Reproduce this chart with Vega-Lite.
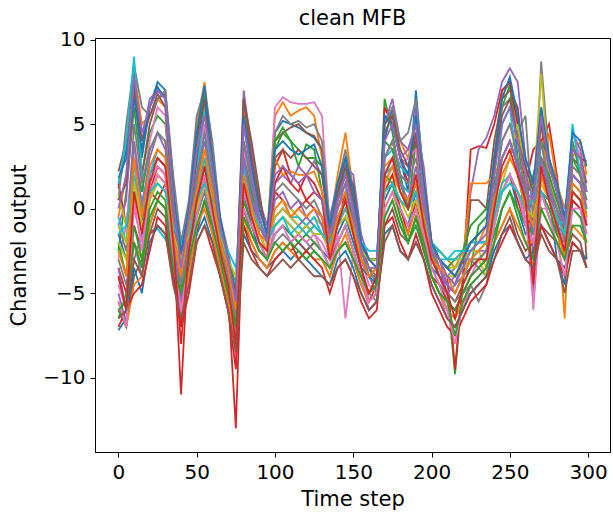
{
  "$schema": "https://vega.github.io/schema/vega-lite/v6.json",
  "width": 515,
  "height": 414,
  "autosize": {"type": "none"},
  "padding": {"left": 95, "top": 38, "right": 3, "bottom": 62},
  "background": "white",
  "config": {
    "font": "DejaVu Sans",
    "view": {"stroke": "black", "strokeWidth": 1},
    "axis": {"grid": false, "domainColor": "black", "tickColor": "black", "labelColor": "black", "titleColor": "black", "labelFont": "DejaVu Sans", "titleFont": "DejaVu Sans", "labelFontSize": 20, "titleFontSize": 21, "titleFontWeight": "normal", "tickSize": 5, "labelPadding": 5}
  },
  "title": {"text": "clean MFB", "fontSize": 21, "fontWeight": "normal", "font": "DejaVu Sans", "color": "black", "offset": 1},
  "data": {"values": [
    {"step":0,"a":1.2,"b":-0.5,"c":-2.5,"d":1.5,"e":-1,"f":2.2,"g":-3,"h":0.5,"i":0.8,"j":1.5,"k":-1.5,"l":-4,"m":-2,"n":-3.5,"o":-5,"p":-6,"q":-4.5,"r":-3,"s":-2,"t":-0.5,"u":-7.2,"v":-5.5,"w":-6.5,"x":-7,"y":-3.5,"z":0.5,"A":-5.5,"B":-1,"C":-1,"D":-1.5,"E":1.8,"F":-2.5,"G":-6,"H":-4,"I":0,"J":-6.5},
    {"step":5,"a":3.5,"b":2,"c":1,"d":-1,"e":0.5,"f":4,"g":-1,"h":5,"i":-1,"j":4,"k":-3,"l":-6,"m":-4,"n":-5,"o":-6.8,"p":-7,"q":-6,"r":-4.5,"s":-3,"t":-2,"u":-6.5,"v":-7,"w":-5,"x":-6,"y":-6,"z":1.5,"A":-7,"B":-2.5,"C":-2,"D":-1,"E":3,"F":-4,"G":-5.5,"H":-6,"I":2,"J":-6},
    {"step":10,"a":7.5,"b":8.2,"c":6,"d":3,"e":7,"f":8,"g":4,"h":8.5,"i":2,"j":9,"k":1,"l":-2,"m":3,"n":-1,"o":-3,"p":-4,"q":0,"r":-2,"s":1.5,"t":2.5,"u":-3.5,"v":-4.5,"w":-1,"x":-5,"y":4,"z":7,"A":0.5,"B":5,"C":1,"D":2,"E":6.5,"F":3,"G":-2,"H":1,"I":7.8,"J":-3},
    {"step":15,"a":3,"b":5,"c":2,"d":0,"e":4,"f":2,"g":1,"h":6,"i":-1,"j":2,"k":-1,"l":-3,"m":1,"n":-2.5,"o":-1.5,"p":-3,"q":-2,"r":-4,"s":-1,"t":0.5,"u":-5,"v":-4,"w":-3,"x":-4.5,"y":0,"z":4,"A":-2.5,"B":1.5,"C":-1,"D":0,"E":3.5,"F":-0.5,"G":-3.5,"H":-1.5,"I":4.5,"J":-4},
    {"step":20,"a":6,"b":5.5,"c":4.5,"d":1,"e":6.5,"f":5,"g":4,"h":5.5,"i":2.5,"j":-1.5,"k":2,"l":0.5,"m":3.5,"n":1,"o":2,"p":-1.5,"q":1.5,"r":-1,"s":0.5,"t":2,"u":-2,"v":-1,"w":0,"x":-2.5,"y":3,"z":5.5,"A":1,"B":3.5,"C":0.5,"D":1,"E":6,"F":2.5,"G":-0.5,"H":1.5,"I":6,"J":-1.5},
    {"step":25,"a":7.5,"b":6.5,"c":5.5,"d":0.5,"e":7,"f":6.5,"g":6,"h":6.5,"i":3.5,"j":-1.2,"k":3,"l":2,"m":4.5,"n":2.5,"o":3,"p":0,"q":2.5,"r":0.5,"s":2,"t":3.5,"u":-1,"v":0.5,"w":1,"x":-0.5,"y":4.5,"z":6.8,"A":2,"B":4.5,"C":1.5,"D":1.5,"E":7.2,"F":3.5,"G":0.5,"H":3,"I":7,"J":-1},
    {"step":30,"a":7,"b":6,"c":5,"d":1.5,"e":6.5,"f":6.8,"g":5.5,"h":7,"i":3,"j":-1.8,"k":2.5,"l":1.5,"m":4,"n":2,"o":2.5,"p":-0.5,"q":2,"r":0,"s":1.5,"t":3,"u":-1.5,"v":0,"w":0.5,"x":-1,"y":3.5,"z":6,"A":1.5,"B":4,"C":1,"D":1,"E":6.5,"F":3,"G":0,"H":2.5,"I":6.5,"J":-1.5},
    {"step":35,"a":1.5,"b":0.5,"c":0,"d":-1.5,"e":1,"f":0,"g":-1,"h":2,"i":-1.5,"j":-2.5,"k":-2,"l":-3,"m":-1,"n":-2.5,"o":-2,"p":-4,"q":-3,"r":-3.5,"s":-2.5,"t":-2,"u":-4,"v":-3,"w":-3,"x":-4,"y":-2,"z":0,"A":-3,"B":-0.5,"C":-1.5,"D":-1,"E":1,"F":-1.5,"G":-3.5,"H":-2,"I":0.5,"J":-4.5},
    {"step":40,"a":-4.5,"b":-3,"c":-5,"d":-11,"e":-3.5,"f":-4,"g":-6,"h":-2,"i":-3,"j":-3,"k":-4,"l":-5,"m":-2.5,"n":-6.8,"o":-4,"p":-5.5,"q":-6.5,"r":-4,"s":-3.5,"t":-2.5,"u":-5,"v":-6,"w":-4.5,"x":-7,"y":-5.5,"z":-3,"A":-6,"B":-4.5,"C":-3,"D":-2,"E":-2.5,"F":-4,"G":-5,"H":-8,"I":-3.5,"J":-6.5},
    {"step":45,"a":-1,"b":0,"c":-1.5,"d":-2,"e":-0.5,"f":-2,"g":-2.5,"h":0.5,"i":-2,"j":-2,"k":-3,"l":-2.5,"m":-1,"n":-3,"o":-1.5,"p":-4,"q":-3.5,"r":-3,"s":-2,"t":-1.5,"u":-3.5,"v":-4,"w":-2.5,"x":-5,"y":-1.5,"z":-0.5,"A":-3,"B":-2,"C":-1.5,"D":-1.5,"E":0,"F":-1,"G":-3,"H":-2.5,"I":-0.5,"J":-4.5},
    {"step":50,"a":3,"b":5,"c":4,"d":1,"e":3.5,"f":2.5,"g":2,"h":5.5,"i":0.5,"j":2,"k":0,"l":1.5,"m":2,"n":0,"o":1,"p":-1.5,"q":0,"r":-0.5,"s":1,"t":1,"u":-1.5,"v":-1,"w":0,"x":-2,"y":2,"z":4,"A":-0.5,"B":1.5,"C":0,"D":0.5,"E":4.5,"F":1,"G":-1,"H":0.5,"I":3.5,"J":-2},
    {"step":55,"a":6.5,"b":7.5,"c":7,"d":5,"e":5.5,"f":6,"g":5,"h":7,"i":3,"j":6,"k":2.5,"l":3.5,"m":4,"n":2,"o":3,"p":0.5,"q":2,"r":1,"s":2.5,"t":3,"u":-0.5,"v":0,"w":1.5,"x":-1,"y":4,"z":6.5,"A":1.5,"B":4.5,"C":1.5,"D":1.5,"E":7.3,"F":3.5,"G":0.5,"H":2.5,"I":5.5,"J":-1},
    {"step":60,"a":2,"b":3.5,"c":2.5,"d":1.5,"e":3,"f":1.5,"g":2,"h":4,"i":0.5,"j":1.5,"k":0,"l":1,"m":1.5,"n":-0.5,"o":0.5,"p":-1.5,"q":0,"r":-1,"s":0.5,"t":1,"u":-2,"v":-1.5,"w":-0.5,"x":-2.5,"y":1,"z":2.5,"A":-0.5,"B":1.5,"C":0,"D":0.5,"E":3,"F":1,"G":-1,"H":0,"I":2.5,"J":-2},
    {"step":65,"a":-2,"b":-1,"c":-1.5,"d":-2.5,"e":-1,"f":-2,"g":-2,"h":-0.5,"i":-2.5,"j":-2,"k":-3,"l":-2,"m":-1.5,"n":-3,"o":-2.5,"p":-3.5,"q":-3,"r":-3.5,"s":-2.5,"t":-2,"u":-4,"v":-3.5,"w":-3,"x":-4,"y":-2,"z":-1,"A":-3,"B":-2,"C":-1.5,"D":-1.5,"E":-0.5,"F":-2,"G":-3,"H":-2.5,"I":-1,"J":-4},
    {"step":70,"a":-4,"b":-3.5,"c":-4.5,"d":-5,"e":-3,"f":-4,"g":-3.5,"h":-2.5,"i":-4,"j":-3,"k":-4.5,"l":-4,"m":-3,"n":-5,"o":-4,"p":-5.5,"q":-5,"r":-5,"s":-4,"t":-3.5,"u":-6,"v":-5.5,"w":-5,"x":-6,"y":-3.5,"z":-3,"A":-4.5,"B":-4,"C":-3,"D":-2.5,"E":-3,"F":-3.5,"G":-5,"H":-4.5,"I":-3,"J":-6},
    {"step":75,"a":-6.5,"b":-7,"c":-6,"d":-13,"e":-5.5,"f":-7.5,"g":-9,"h":-5,"i":-5.5,"j":-4.5,"k":-6,"l":-8,"m":-4.5,"n":-7,"o":-6.5,"p":-7,"q":-8.5,"r":-6,"s":-5,"t":-4.5,"u":-7.5,"v":-8,"w":-6.5,"x":-9.5,"y":-6,"z":-5,"A":-7.5,"B":-6.5,"C":-4,"D":-3.5,"E":-5.5,"F":-6,"G":-7,"H":-8,"I":-5.5,"J":-8.5},
    {"step":80,"a":5,"b":6,"c":4,"d":1,"e":7,"f":6.5,"g":3.5,"h":5.5,"i":2,"j":3,"k":1,"l":2.5,"m":3,"n":0,"o":4,"p":-1,"q":1,"r":0,"s":2,"t":2.5,"u":-1.5,"v":-0.5,"w":0.5,"x":-1,"y":3,"z":6.5,"A":0,"B":4,"C":1.5,"D":2,"E":5.5,"F":2,"G":-0.5,"H":1.5,"I":5,"J":-2},
    {"step":85,"a":2,"b":3,"c":1.5,"d":-0.5,"e":3.5,"f":4,"g":1,"h":2.5,"i":0,"j":1,"k":-1,"l":0.5,"m":1,"n":-1.5,"o":1.5,"p":-2,"q":-0.5,"r":-1.5,"s":0,"t":0.5,"u":-2.5,"v":-2,"w":-1,"x":-2.5,"y":0.5,"z":3,"A":-1,"B":1.5,"C":0,"D":0,"E":2.5,"F":0,"G":-1.5,"H":-0.5,"I":2,"J":-3},
    {"step":90,"a":-1,"b":0,"c":-1.5,"d":-2,"e":0.5,"f":1,"g":-1.5,"h":0,"i":-1.5,"j":-1,"k":-2.5,"l":-1.5,"m":-1,"n":-2.5,"o":-1,"p":-3,"q":-2,"r":-2.5,"s":-1.5,"t":-1,"u":-3,"v":-3,"w":-2,"x":-3.5,"y":-1,"z":0.5,"A":-2,"B":-0.5,"C":-1,"D":-1,"E":0,"F":-1.5,"G":-2.5,"H":-2,"I":-0.5,"J":-3.5},
    {"step":95,"a":-2,"b":-1.5,"c":-2.5,"d":-3,"e":-1,"f":-2,"g":-2.5,"h":-1.5,"i":-2.5,"j":-2,"k":-3,"l":-2.5,"m":-2,"n":-3,"o":-2,"p":-3.5,"q":-3,"r":-3,"s":-2.5,"t":-2,"u":-3.5,"v":-3.5,"w":-3,"x":-4,"y":-2,"z":-1.5,"A":-3,"B":-2,"C":-1.5,"D":-1.5,"E":-1.5,"F":-2,"G":-3,"H":-2.5,"I":-2,"J":-4},
    {"step":100,"a":4.5,"b":5.5,"c":3.5,"d":2.5,"e":1.5,"f":4,"g":6,"h":4.5,"i":0,"j":-0.5,"k":-1.5,"l":3,"m":4,"n":1,"o":-0.5,"p":-2.5,"q":-1,"r":-2,"s":-0.5,"t":-1,"u":-3,"v":-2.5,"w":-1.5,"x":-3,"y":0.5,"z":3,"A":-1.5,"B":1,"C":-1,"D":-1,"E":3.5,"F":0,"G":-2,"H":1.5,"I":2,"J":-3.5},
    {"step":105,"a":5.2,"b":6.3,"c":4.5,"d":3.5,"e":2,"f":4.5,"g":6.6,"h":5.5,"i":0.5,"j":0,"k":-1,"l":2,"m":4.8,"n":0.5,"o":0,"p":-2,"q":-0.5,"r":-1.5,"s":0,"t":-0.5,"u":-2.5,"v":-2,"w":-1,"x":-2.5,"y":1,"z":3.5,"A":-1,"B":1.5,"C":-0.5,"D":-0.5,"E":4,"F":0.5,"G":-2.5,"H":2.5,"I":2.5,"J":-3},
    {"step":110,"a":5,"b":5.5,"c":4,"d":2,"e":1.5,"f":4.8,"g":6.3,"h":5,"i":0,"j":-0.5,"k":-1.5,"l":2.2,"m":4,"n":-0.5,"o":-0.5,"p":-2.5,"q":-1,"r":-2,"s":-0.5,"t":-1,"u":-3,"v":-2.5,"w":-1.5,"x":-2,"y":0,"z":3,"A":-2,"B":1,"C":-1,"D":-1.5,"E":3.5,"F":-0.5,"G":-2,"H":1.5,"I":2,"J":-3.5},
    {"step":115,"a":4.8,"b":5.8,"c":2.5,"d":1.5,"e":2.5,"f":5,"g":6.2,"h":5.2,"i":-0.5,"j":-0.5,"k":-2,"l":2,"m":3.5,"n":0,"o":-1,"p":-2,"q":-1.5,"r":-1.5,"s":-1,"t":-1.5,"u":-2.5,"v":-3,"w":-2,"x":-3,"y":0.5,"z":3.5,"A":-1.5,"B":0.5,"C":-1.5,"D":-1,"E":3.2,"F":0,"G":-2.5,"H":1,"I":1.5,"J":-3},
    {"step":120,"a":4.5,"b":6,"c":3.8,"d":0.5,"e":2,"f":4.5,"g":6.2,"h":4.8,"i":-1,"j":-1,"k":-2.5,"l":2,"m":3,"n":0.5,"o":-0.5,"p":-2.5,"q":-1,"r":-2,"s":-1.5,"t":-1,"u":-3,"v":-2.5,"w":-1.5,"x":-2.5,"y":-0.5,"z":3,"A":-2,"B":0,"C":-1,"D":-1.5,"E":3.5,"F":-0.5,"G":-3,"H":2,"I":2,"J":-3.5},
    {"step":125,"a":4.2,"b":5.5,"c":3.5,"d":1,"e":2.8,"f":4.3,"g":6.3,"h":5,"i":-0.5,"j":-0.5,"k":-2,"l":2.2,"m":3,"n":0,"o":-1,"p":-2,"q":-1.5,"r":-2.5,"s":-1,"t":-1.5,"u":-3.5,"v":-3,"w":-2,"x":-3,"y":0,"z":2.5,"A":-1.5,"B":0.5,"C":-1.5,"D":-1,"E":3.8,"F":0,"G":-2.5,"H":1.5,"I":1,"J":-4},
    {"step":130,"a":3.5,"b":3,"c":1,"d":0.5,"e":2,"f":3.5,"g":5.5,"h":4,"i":-1,"j":-1.5,"k":-2.5,"l":1,"m":2.5,"n":-0.5,"o":-1.5,"p":-2.5,"q":-2,"r":-3,"s":-1.5,"t":-1.5,"u":-4,"v":-3,"w":-2.5,"x":-3.5,"y":-1,"z":2,"A":-2.5,"B":-0.5,"C":-1.5,"D":-1.5,"E":2.5,"F":-0.5,"G":-3,"H":0.5,"I":0.5,"J":-4},
    {"step":135,"a":-1.5,"b":-1,"c":-2,"d":-2,"e":-0.5,"f":-1.5,"g":-1,"h":-1,"i":-2.5,"j":-2,"k":-3,"l":-2,"m":-1.5,"n":-3,"o":-2.5,"p":-3.5,"q":-3,"r":-4,"s":-2.5,"t":-2,"u":-4.5,"v":-4,"w":-3.5,"x":-5,"y":-2.5,"z":-1.5,"A":-3.5,"B":-2,"C":-2,"D":-2,"E":-1,"F":-2.5,"G":-3.5,"H":-3,"I":-1.5,"J":-4.5},
    {"step":140,"a":1,"b":2,"c":0.5,"d":-1,"e":1.5,"f":1,"g":0,"h":1.5,"i":-1,"j":-0.5,"k":-1.5,"l":0,"m":0.5,"n":-2,"o":-0.5,"p":-2.5,"q":-1.5,"r":-2.5,"s":-1,"t":-0.5,"u":-3,"v":-2.5,"w":-2,"x":-3.5,"y":0,"z":1,"A":-2,"B":0.5,"C":-1,"D":-1,"E":1.5,"F":-0.5,"G":-2.5,"H":-1,"I":0.5,"J":-3.5},
    {"step":145,"a":3,"b":4.5,"c":2.5,"d":1,"e":2.5,"f":2,"g":1,"h":3.5,"i":0,"j":0.5,"k":-0.5,"l":1,"m":1.5,"n":-1,"o":0.5,"p":-2,"q":-6.5,"r":-2,"s":0,"t":0.5,"u":-2.5,"v":-1.5,"w":-1,"x":-3,"y":1.5,"z":2.5,"A":-1,"B":2,"C":-0.5,"D":0,"E":3,"F":0.5,"G":-2,"H":0.5,"I":2,"J":-3},
    {"step":150,"a":0.5,"b":1,"c":0,"d":-1.5,"e":2,"f":1.5,"g":-0.5,"h":1,"i":-1.5,"j":-1,"k":-2,"l":-1,"m":-1,"n":-2.5,"o":0,"p":-3,"q":-2.5,"r":-3,"s":-1.5,"t":-1,"u":-3.5,"v":-3,"w":-2.5,"x":-4,"y":-0.5,"z":0.5,"A":-2.5,"B":0,"C":-1.5,"D":-1,"E":1,"F":-1,"G":-3,"H":-1.5,"I":0,"J":-4},
    {"step":155,"a":-2.5,"b":-2,"c":-3,"d":-3.5,"e":-1.5,"f":-2,"g":-3,"h":-2,"i":-2.5,"j":-2.5,"k":-3.5,"l":-3,"m":-2.5,"n":-4,"o":-3,"p":-4.5,"q":-4,"r":-4,"s":-3,"t":-2.5,"u":-5,"v":-4.5,"w":-4,"x":-5.5,"y":-3,"z":-2,"A":-4,"B":-2.5,"C":-2.5,"D":-2,"E":-2,"F":-3,"G":-4,"H":-3.5,"I":-2.5,"J":-5},
    {"step":160,"a":-3.5,"b":-3,"c":-4,"d":-5.5,"e":-3,"f":-3.5,"g":-4.5,"h":-4,"i":-3,"j":-3,"k":-4,"l":-4,"m":-3,"n":-5,"o":-4,"p":-5.5,"q":-6,"r":-5,"s":-3.5,"t":-3,"u":-6,"v":-5.5,"w":-5,"x":-6.5,"y":-4,"z":-3,"A":-5.5,"B":-4,"C":-3,"D":-2.5,"E":-3,"F":-4,"G":-5,"H":-5,"I":-3.5,"J":-6},
    {"step":165,"a":-4.5,"b":-3.5,"c":-4,"d":-4.5,"e":-3.5,"f":-4,"g":-5,"h":-5,"i":-3,"j":-3,"k":-4.5,"l":-3.5,"m":-3,"n":-4.5,"o":-4,"p":-5,"q":-5.5,"r":-5.5,"s":-3.5,"t":-3,"u":-5.5,"v":-5,"w":-4.5,"x":-6,"y":-3.5,"z":-3,"A":-5,"B":-4,"C":-3,"D":-2.5,"E":-3.5,"F":-3.5,"G":-4.5,"H":-4,"I":-3.5,"J":-5.5},
    {"step":170,"a":4,"b":5.5,"c":6.5,"d":6,"e":5,"f":4.5,"g":3,"h":5,"i":1.5,"j":3,"k":0.5,"l":2.5,"m":4,"n":1,"o":3,"p":-1,"q":1.5,"r":-0.5,"s":1,"t":2,"u":-1.5,"v":0,"w":2,"x":-1,"y":2,"z":5,"A":0,"B":3,"C":1,"D":1,"E":5.5,"F":1.5,"G":-0.5,"H":2,"I":4,"J":-2},
    {"step":175,"a":6,"b":5,"c":4.5,"d":5,"e":6.5,"f":5.5,"g":4,"h":6,"i":2,"j":3.5,"k":1.5,"l":3,"m":3.5,"n":2,"o":4,"p":0,"q":2.5,"r":0.5,"s":1.5,"t":2.5,"u":-1,"v":1,"w":1.5,"x":-0.5,"y":3,"z":5.5,"A":1,"B":4,"C":1.5,"D":1.5,"E":5,"F":2.5,"G":0.5,"H":3,"I":5,"J":-1},
    {"step":180,"a":3,"b":4,"c":2,"d":3,"e":4,"f":3,"g":2.5,"h":4,"i":1,"j":2.5,"k":0,"l":1.5,"m":1.5,"n":0,"o":2,"p":-1.5,"q":1,"r":-1,"s":0.5,"t":1.5,"u":-2.5,"v":-0.5,"w":-0.5,"x":-2,"y":1.5,"z":3.5,"A":0,"B":2,"C":0.5,"D":0.5,"E":3,"F":1,"G":-1,"H":1,"I":3,"J":-2.5},
    {"step":185,"a":1,"b":3,"c":0,"d":1.5,"e":3.5,"f":2.5,"g":3,"h":4.5,"i":0,"j":2,"k":-1,"l":1,"m":0,"n":-1.5,"o":1.5,"p":-2,"q":0,"r":-2,"s":-0.5,"t":1,"u":-3,"v":-1.5,"w":-2,"x":-3,"y":0.5,"z":2.5,"A":-1,"B":1.5,"C":0,"D":0,"E":2,"F":0.5,"G":-2,"H":0,"I":3.5,"J":-3},
    {"step":190,"a":7,"b":5,"c":4,"d":4.5,"e":5,"f":4,"g":3.5,"h":6.5,"i":1.5,"j":6,"k":1,"l":2,"m":1.5,"n":0.5,"o":6,"p":-0.5,"q":1,"r":-0.5,"s":0.5,"t":1.5,"u":-2,"v":0,"w":-0.5,"x":-1.5,"y":2.5,"z":4.5,"A":0,"B":3,"C":0.5,"D":1,"E":5.5,"F":1.5,"G":-1,"H":2,"I":5,"J":-2},
    {"step":195,"a":1.5,"b":1,"c":0.5,"d":1,"e":2.5,"f":1,"g":0,"h":2,"i":-1,"j":0.5,"k":-1.5,"l":-0.5,"m":-0.5,"n":-2,"o":0.5,"p":-2.5,"q":-1.5,"r":-2,"s":-1,"t":-0.5,"u":-3,"v":-2,"w":-2,"x":-3,"y":0,"z":1.5,"A":-1.5,"B":0.5,"C":-1,"D":-0.5,"E":1.5,"F":-0.5,"G":-2.5,"H":-1,"I":1,"J":-3},
    {"step":200,"a":-2,"b":-2.5,"c":-3,"d":-3,"e":-2,"f":-2.5,"g":-3.5,"h":-2,"i":-3,"j":-2.5,"k":-3.5,"l":-3,"m":-2.5,"n":-4,"o":-3,"p":-4,"q":-4,"r":-3.5,"s":-3,"t":-2.5,"u":-4.5,"v":-4,"w":-4,"x":-5,"y":-2.5,"z":-2,"A":-3.5,"B":-2.5,"C":-2,"D":-2,"E":-2,"F":-3,"G":-4,"H":-3,"I":-2.5,"J":-4.5},
    {"step":205,"a":-3,"b":-2.5,"c":-4,"d":-3.5,"e":-3,"f":-4,"g":-4,"h":-3.5,"i":-3,"j":-2.5,"k":-4,"l":-3.5,"m":-3,"n":-4.5,"o":-3.5,"p":-5,"q":-5,"r":-4.5,"s":-3.5,"t":-3,"u":-5.5,"v":-5,"w":-5,"x":-6,"y":-3.5,"z":-3,"A":-4.5,"B":-3.5,"C":-2.5,"D":-2.5,"E":-3,"F":-3.5,"G":-5,"H":-4,"I":-3,"J":-5.5},
    {"step":210,"a":-3.5,"b":-3,"c":-5,"d":-4,"e":-4.5,"f":-5,"g":-5.5,"h":-4,"i":-3.5,"j":-3,"k":-4.5,"l":-4,"m":-3.5,"n":-5.5,"o":-5,"p":-6,"q":-6.5,"r":-5,"s":-4,"t":-3,"u":-6.5,"v":-6,"w":-5.5,"x":-7,"y":-4.5,"z":-3.5,"A":-6,"B":-4,"C":-3,"D":-3,"E":-3.5,"F":-4,"G":-5.5,"H":-5,"I":-4,"J":-6.5},
    {"step":215,"a":-4,"b":-3.5,"c":-9.8,"d":-9.5,"e":-4,"f":-5.5,"g":-6,"h":-3.5,"i":-3.5,"j":-2.5,"k":-5,"l":-4.5,"m":-3,"n":-6,"o":-4.5,"p":-6.5,"q":-7,"r":-5.5,"s":-4,"t":-3,"u":-7,"v":-6.5,"w":-6,"x":-7.5,"y":-5,"z":-4,"A":-8,"B":-4.5,"C":-3,"D":-3,"E":-4,"F":-5,"G":-7.5,"H":-6.5,"I":-4.5,"J":-7},
    {"step":220,"a":-3.5,"b":-2.5,"c":-4.5,"d":-4,"e":-3,"f":-4.5,"g":-5,"h":-3,"i":-3,"j":-2.5,"k":-4,"l":-3,"m":-2.5,"n":-5,"o":-3,"p":-5.5,"q":-6,"r":-5,"s":-3.5,"t":-3,"u":-6,"v":-5.5,"w":-5,"x":-6.5,"y":-4,"z":-3,"A":-5.5,"B":-4,"C":-3,"D":-2.5,"E":-3,"F":-4,"G":-5.5,"H":-4.5,"I":-3.5,"J":-6},
    {"step":225,"a":-3,"b":-2,"c":-3.5,"d":3.5,"e":1,"f":0.5,"g":-4,"h":-3,"i":-2.5,"j":-2,"k":-3.5,"l":1.5,"m":-1,"n":-4,"o":-2.5,"p":-5,"q":-4.5,"r":-4.5,"s":-3,"t":-2.5,"u":-5,"v":-4.5,"w":-4,"x":-5.5,"y":-3,"z":-2,"A":-4.5,"B":-3,"C":-2.5,"D":-2.5,"E":-2,"F":-3,"G":-4.5,"H":-3.5,"I":-2.5,"J":-5},
    {"step":230,"a":-2.5,"b":-2,"c":-1,"d":3.7,"e":3.5,"f":0.5,"g":-3,"h":-3.5,"i":-2.5,"j":-2,"k":-3,"l":1.5,"m":-0.5,"n":-3.5,"o":-2,"p":-4.5,"q":-4,"r":-5.5,"s":-3,"t":-2,"u":-4.5,"v":-4,"w":-3.5,"x":-5,"y":-2.5,"z":-1.5,"A":-4,"B":-3,"C":-2.5,"D":-2,"E":-1.5,"F":-2.5,"G":-4,"H":-3,"I":-2,"J":-4.5},
    {"step":235,"a":-2,"b":-1,"c":-0.5,"d":3.6,"e":4.2,"f":0,"g":-2.5,"h":-4,"i":-3.5,"j":-2,"k":-2.5,"l":1.5,"m":0,"n":-3,"o":-2,"p":-4,"q":-3.5,"r":-4.5,"s":-4,"t":-2,"u":-4,"v":-3.5,"w":-3,"x":-4.5,"y":-2.5,"z":-1,"A":-3.5,"B":-2.5,"C":-2,"D":-2,"E":-1,"F":-2,"G":-3.5,"H":-3,"I":-1.5,"J":-4},
    {"step":240,"a":2,"b":3,"c":2,"d":5,"e":5.5,"f":4,"g":1,"h":3,"i":0,"j":0,"k":-0.5,"l":2,"m":1.5,"n":-1,"o":0.5,"p":-2,"q":-1,"r":-2,"s":-1,"t":-0.5,"u":-2.5,"v":-2,"w":-1.5,"x":-3,"y":0.5,"z":2.5,"A":-1,"B":1,"C":-0.5,"D":-0.5,"E":3,"F":0.5,"G":-2,"H":0,"I":2,"J":-3},
    {"step":245,"a":7,"b":7,"c":6,"d":7,"e":7.5,"f":6.5,"g":4,"h":6,"i":1.5,"j":5,"k":1,"l":3,"m":3,"n":1,"o":3,"p":-1,"q":1,"r":0,"s":1,"t":1.5,"u":-1.5,"v":-1,"w":0,"x":-2,"y":3,"z":5.5,"A":1,"B":4,"C":1,"D":1,"E":6.5,"F":2,"G":0,"H":2.5,"I":5,"J":-1.5},
    {"step":250,"a":7.5,"b":7.3,"c":7.3,"d":7.5,"e":8.3,"f":7,"g":5,"h":6.5,"i":3,"j":6,"k":2,"l":4,"m":4,"n":2,"o":4,"p":0,"q":2,"r":1,"s":2,"t":2,"u":-1,"v":0,"w":1,"x":-1,"y":4,"z":6.5,"A":2,"B":5,"C":1.5,"D":1.5,"E":7.8,"F":3,"G":1,"H":3.5,"I":6,"J":-0.5},
    {"step":255,"a":3,"b":5,"c":4,"d":5,"e":7.5,"f":6,"g":4,"h":4.5,"i":5,"j":2,"k":0,"l":2.5,"m":2.5,"n":0.5,"o":2.5,"p":-1.5,"q":1,"r":0,"s":1,"t":1,"u":-2,"v":-1,"w":0,"x":-2,"y":2.5,"z":4,"A":1,"B":3,"C":1,"D":1,"E":5.5,"F":2,"G":-0.5,"H":2,"I":4,"J":-2},
    {"step":260,"a":-1,"b":1,"c":0.5,"d":1.5,"e":3,"f":2,"g":2,"h":5.5,"i":2,"j":0,"k":-1.5,"l":0.5,"m":1,"n":-1,"o":1,"p":-2.5,"q":-0.5,"r":-1,"s":0,"t":0,"u":-3,"v":-2,"w":-1,"x":-3,"y":0.5,"z":2.5,"A":-1,"B":1.5,"C":0,"D":0,"E":3,"F":0,"G":-2,"H":0.5,"I":2,"J":-3},
    {"step":265,"a":1,"b":0,"c":2,"d":3.5,"e":-3,"f":-5,"g":-6,"h":-1,"i":1,"j":0.5,"k":-1,"l":-4,"m":1.5,"n":-0.5,"o":0.5,"p":-2,"q":-5.5,"r":-1.5,"s":-0.5,"t":0.5,"u":-2.5,"v":-2,"w":-1.5,"x":-3.5,"y":-1,"z":1,"A":-2,"B":-1.5,"C":-0.5,"D":-1,"E":1.5,"F":-1,"G":-3,"H":-4.5,"I":0.5,"J":-3.5},
    {"step":270,"a":6,"b":5,"c":4,"d":4,"e":3,"f":2,"g":1,"h":8.7,"i":8,"j":4,"k":3,"l":2,"m":3,"n":1,"o":2,"p":-1,"q":0,"r":1,"s":2,"t":2,"u":-1,"v":0,"w":1,"x":-1,"y":3,"z":5,"A":1,"B":4,"C":1.5,"D":1,"E":6,"F":2,"G":0,"H":2.5,"I":5.5,"J":-1.5},
    {"step":275,"a":2,"b":1,"c":3,"d":5,"e":2,"f":1.5,"g":0.5,"h":3,"i":2,"j":1,"k":1,"l":4.5,"m":2,"n":0.5,"o":1,"p":-1.5,"q":0,"r":-0.5,"s":0.5,"t":1,"u":-2,"v":-1,"w":0,"x":-2,"y":1,"z":2.5,"A":-0.5,"B":1.5,"C":0.5,"D":0.5,"E":3,"F":0.5,"G":-1,"H":0.5,"I":2.5,"J":-2.5},
    {"step":280,"a":-1.5,"b":0,"c":1,"d":2,"e":0.5,"f":0,"g":-1,"h":1,"i":0,"j":-1,"k":-3,"l":1.5,"m":0.5,"n":-1,"o":0,"p":-2,"q":-1,"r":-1.5,"s":-0.5,"t":-0.5,"u":-3,"v":-2,"w":-1.5,"x":-3,"y":-0.5,"z":1,"A":-2,"B":0,"C":-0.5,"D":-0.5,"E":1.5,"F":-1,"G":-2,"H":-1,"I":1,"J":-3},
    {"step":285,"a":-2,"b":-6.5,"c":-1,"d":-2,"e":-1,"f":-1.5,"g":-2,"h":-0.5,"i":-1,"j":-1.5,"k":-4.5,"l":0,"m":-1,"n":-2.5,"o":-1,"p":-3,"q":-2,"r":-2.5,"s":-1.5,"t":-1,"u":-3.5,"v":-3,"w":-2.5,"x":-4,"y":-3,"z":-1,"A":-4,"B":-2,"C":-1.5,"D":-1.5,"E":-0.5,"F":-3,"G":-3,"H":-2.5,"I":-1,"J":-5},
    {"step":290,"a":2,"b":3,"c":4,"d":3.5,"e":4.5,"f":3,"g":4.5,"h":2,"i":1,"j":5,"k":0.5,"l":2.5,"m":3,"n":0.5,"o":2,"p":-1.5,"q":1,"r":0,"s":1,"t":1.5,"u":-2,"v":-1,"w":0,"x":-2,"y":2,"z":3.5,"A":0,"B":2.5,"C":1,"D":1,"E":4.5,"F":1.5,"G":-1,"H":1,"I":3.5,"J":-2.5},
    {"step":295,"a":1.5,"b":4,"c":2,"d":3,"e":3.5,"f":2.5,"g":3,"h":1.5,"i":0.5,"j":2,"k":0,"l":2,"m":2,"n":0,"o":1.5,"p":-2,"q":0.5,"r":-0.5,"s":0.5,"t":1,"u":-2.5,"v":-1.5,"w":-0.5,"x":-2.5,"y":1.5,"z":3,"A":0,"B":2,"C":0.5,"D":0.5,"E":4,"F":1,"G":-1,"H":0.5,"I":3,"J":-2.5},
    {"step":299,"a":0.5,"b":2,"c":-0.5,"d":2.8,"e":1,"f":-3,"g":-1,"h":0,"i":-0.5,"j":0.5,"k":-1,"l":0,"m":1,"n":-1.5,"o":1,"p":-3.5,"q":-1,"r":-2,"s":-0.5,"t":0,"u":-3,"v":-2,"w":-1.5,"x":-3.5,"y":0,"z":1.5,"A":-1.5,"B":0.5,"C":-0.5,"D":0,"E":2.5,"F":-0.5,"G":-2,"H":-1,"I":1,"J":-3.5}
  ]},
  "transform": [
    {"fold": ["a","b","c","d","e","f","g","h","i","j","k","l","m","n","o","p","q","r","s","t","u","v","w","x","y","z","A","B","C","D","E","F","G","H","I","J"], "as": ["ch", "val"]}
  ],
  "mark": {"type": "line", "strokeWidth": 1.8, "clip": true},
  "encoding": {
    "x": {"field": "step", "type": "quantitative", "scale": {"domain": [-14.95, 313.95], "nice": false, "zero": false}, "axis": {"values": [0,50,100,150,200,250,300], "title": "Time step", "titlePadding": 6}},
    "y": {"field": "val", "type": "quantitative", "scale": {"domain": [-14.4, 10.1], "nice": false, "zero": false}, "axis": {"values": [-10,-5,0,5,10], "title": "Channel output", "titlePadding": 13}},
    "color": {"field": "ch", "type": "nominal", "legend": null, "scale": {"domain": ["a","b","c","d","e","f","g","h","i","j","k","l","m","n","o","p","q","r","s","t","u","v","w","x","y","z","A","B","C","D","E","F","G","H","I","J"], "range": ["#1f77b4","#ff7f0e","#2ca02c","#d62728","#9467bd","#8c564b","#e377c2","#7f7f7f","#bcbd22","#17becf","#1f77b4","#ff7f0e","#2ca02c","#d62728","#9467bd","#8c564b","#e377c2","#7f7f7f","#bcbd22","#17becf","#1f77b4","#ff7f0e","#2ca02c","#d62728","#9467bd","#8c564b","#e377c2","#7f7f7f","#bcbd22","#17becf","#1f77b4","#ff7f0e","#2ca02c","#d62728","#9467bd","#8c564b"]}}
  }
}
